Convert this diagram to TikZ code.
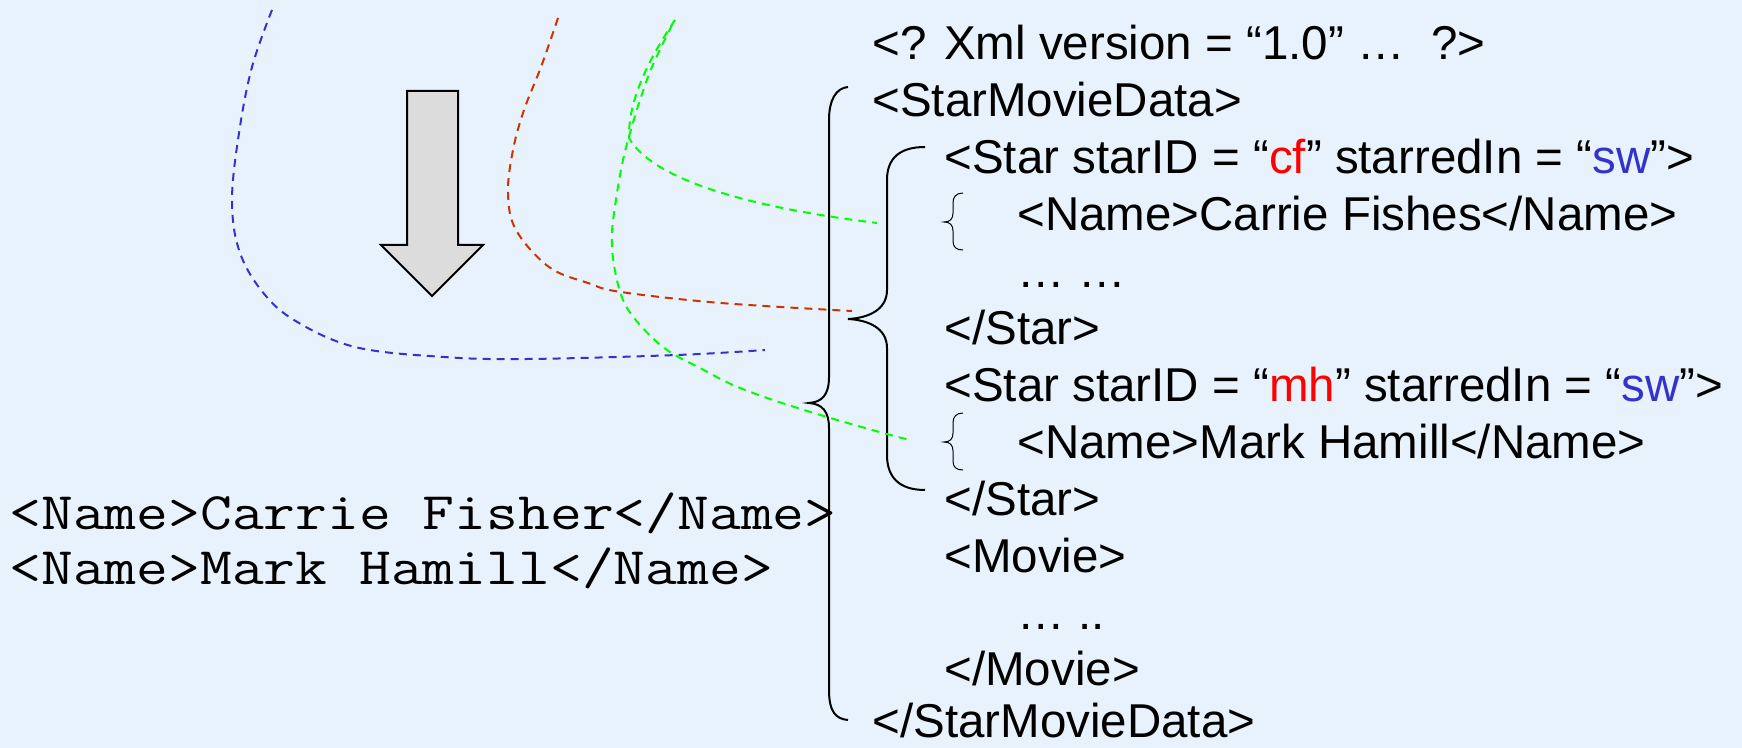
\documentclass[tikz,border=0pt]{standalone}
\usepackage{fontspec}
\newfontfamily\xmlfont{Liberation Sans}
\definecolor{bgblue}{RGB}{232,242,252}
\definecolor{linkblue}{RGB}{51,51,204}
\definecolor{linkred}{RGB}{204,51,0}
\definecolor{linkgreen}{RGB}{0,255,0}
\definecolor{idred}{RGB}{255,0,0}
\definecolor{arrowgray}{RGB}{220,220,220}
\tikzset{
  xmltext/.style={anchor=base west,inner sep=0pt,font=\xmlfont\fontsize{23.75}{28}\selectfont},
  codetext/.style={anchor=base west,inner sep=0pt,font=\ttfamily\fontsize{26.4}{30}\selectfont},
  link/.style={line width=1pt,dash pattern=on 4pt off 3pt},
  bigbrace/.style={draw=black,line width=1pt},
  smallbrace/.style={draw=black,line width=0.5pt},
  arrowbox/.style={draw=black,fill=arrowgray,line width=1pt,line join=miter}
}
\newcommand{\idr}[1]{\textcolor{idred}{#1}}
\newcommand{\idb}[1]{\textcolor{linkblue}{#1}}
\newcommand{\widecode}[1]{\scalebox{1.17}[1]{#1}}
\begin{document}
\begin{tikzpicture}[x=0.5pt,y=-0.5pt]
\fill[bgblue] (0,0) rectangle (1742,748);
\useasboundingbox (0,0) rectangle (1742,748);

% XML document, one node per line
\node[xmltext] (l1)  at (872,60)    {<? Xml version = “1.0” …\ \ ?>};
\node[xmltext] (l2)  at (872,117)   {<StarMovieData>};
\node[xmltext] (l3)  at (944,173.9) {<Star starID = “\idr{cf}” starredIn = “\idb{sw}”>};
\node[xmltext] (l4)  at (1017,230.8){<Name>Carrie Fishes</Name>};
\node[xmltext] (l5)  at (1017,287.7){… …};
\node[xmltext] (l6)  at (944,344.6) {</Star>};
\node[xmltext] (l7)  at (944,401.5) {<Star starID = “\idr{mh}” starredIn = “\idb{sw}”>};
\node[xmltext] (l8)  at (1017,458.4){<Name>Mark Hamill</Name>};
\node[xmltext] (l9)  at (944,515.3) {</Star>};
\node[xmltext] (l10) at (944,572.2) {<Movie>};
\node[xmltext] (l11) at (1017,629.1){… ..};
\node[xmltext] (l12) at (944,686)   {</Movie>};
\node[xmltext] (l13) at (872,737)   {</StarMovieData>};

% query result
\node[codetext] (r1) at (9,530) {\widecode{<Name>Carrie Fisher</Name>}};
\node[codetext] (r2) at (9,585) {\widecode{<Name>Mark Hamill</Name>}};

% block arrow
\draw[arrowbox] (407,91) -- (458,91) -- (458,245) -- (483,245) -- (432,296)
  -- (381,245) -- (407,245) -- cycle;

% brace around the whole document
\draw[bigbrace] (848,87) .. controls (836,88) and (829,100) .. (829,120)
  -- (829,377) .. controls (829,395) and (822,402) .. (809,403)
  .. controls (822,404) and (829,411) .. (829,428)
  -- (829,690) .. controls (829,712) and (836,719) .. (848,720);

% brace around the two Star elements
\draw[bigbrace] (925,147) .. controls (900,147) and (887,158) .. (887,180)
  -- (887,290) .. controls (887,310) and (868,318) .. (848,319)
  .. controls (868,320) and (887,328) .. (887,348)
  -- (887,455) .. controls (887,478) and (900,490) .. (925,490);

% small braces in front of the Name elements
\foreach \dy in {0,220}{
  \begin{scope}[shift={(0,\dy)}]
    \draw[smallbrace] (963,193) .. controls (956,193) and (953,197) .. (953,203)
      -- (953,213) .. controls (953,219) and (950,222) .. (944,222)
      .. controls (950,222) and (953,225) .. (953,231)
      -- (953,241) .. controls (953,247) and (956,250) .. (963,250);
  \end{scope}
}

% end points of the dashed paths
\coordinate (blueS) at (272,10);
\coordinate (blueE) at (765,350);
\coordinate (redS) at (558,18);
\coordinate (redE) at (852,311);
\coordinate (greenS) at (675,20);
\coordinate (greenK) at (629,138);
\coordinate (greenA) at (877,223);
\coordinate (greenT) at (672,25);
\coordinate (greenB) at (910,440);

\draw[link,linkblue] plot[smooth,tension=0.6] coordinates {(blueS) (252,67) (239,133)
  (232,200) (239,250) (261,290) (294,320) (355,347) (444,357) (527,359) (677,355) (blueE)};

\draw[link,linkred] plot[smooth,tension=0.6] coordinates {(redS) (541,67) (524,110)
  (513,150) (508,193) (516,230) (549,267) (588,283) (621,292) (721,303) (redE)};

\draw[link,linkgreen] (greenS) .. controls (655,50) and (628,95) .. (greenK)
  .. controls (650,175) and (730,205) .. (greenA);

\draw[link,linkgreen] plot[smooth,tension=0.6] coordinates {(greenT) (652,67) (640,100)
  (630,133) (623,160) (617,193) (612,233) (614,265) (623,300) (640,325) (667,350)
  (700,368) (733,385) (773,400) (827,417) (883,433) (greenB)};
\end{tikzpicture}
\end{document}
